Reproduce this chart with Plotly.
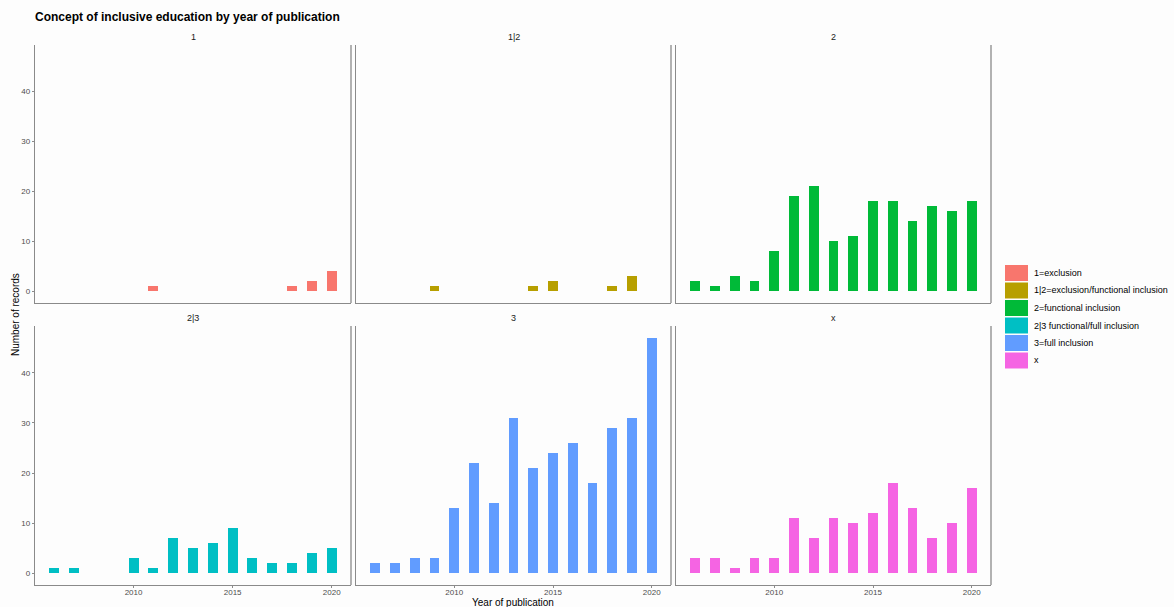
import plotly.graph_objects as go

# Facet keys, legend labels and fill colours (ggplot default hue palette)
facet_keys = ["1", "1|2", "2", "2|3", "3", "x"]
legend_labels = [
    "1=exclusion",
    "1|2=exclusion/functional inclusion",
    "2=functional inclusion",
    "2|3 functional/full inclusion",
    "3=full inclusion",
    "x",
]
colors = ["#F8766D", "#B79F00", "#00BA38", "#00BFC4", "#619CFF", "#F564E3"]

# Records per year of publication for each concept
years_1 = [2011, 2018, 2019, 2020]
counts_1 = [1, 1, 2, 4]

years_12 = [2009, 2014, 2015, 2018, 2019]
counts_12 = [1, 1, 2, 1, 3]

years_2 = [2006, 2007, 2008, 2009, 2010, 2011, 2012, 2013, 2014, 2015, 2016, 2017, 2018, 2019, 2020]
counts_2 = [2, 1, 3, 2, 8, 19, 21, 10, 11, 18, 18, 14, 17, 16, 18]

years_23 = [2006, 2007, 2010, 2011, 2012, 2013, 2014, 2015, 2016, 2017, 2018, 2019, 2020]
counts_23 = [1, 1, 3, 1, 7, 5, 6, 9, 3, 2, 2, 4, 5]

years_3 = [2006, 2007, 2008, 2009, 2010, 2011, 2012, 2013, 2014, 2015, 2016, 2017, 2018, 2019, 2020]
counts_3 = [2, 2, 3, 3, 13, 22, 14, 31, 21, 24, 26, 18, 29, 31, 47]

years_x = [2006, 2007, 2008, 2009, 2010, 2011, 2012, 2013, 2014, 2015, 2016, 2017, 2018, 2019, 2020]
counts_x = [3, 3, 1, 3, 3, 11, 7, 11, 10, 12, 18, 13, 7, 10, 17]

x_ticks = [2010, 2015, 2020]
y_ticks = [0, 10, 20, 30, 40]

series = [
    (years_1, counts_1),
    (years_12, counts_12),
    (years_2, counts_2),
    (years_23, counts_23),
    (years_3, counts_3),
    (years_x, counts_x),
]

W, H = 1174, 607
col_px = [(35, 351), (356, 671), (676, 991)]
row_px = [(45, 303), (326, 585)]

AXIS_GRAY = "#8a8a8a"
FONT = "Liberation Sans, Arial, sans-serif"
TICK_FONT = dict(family=FONT, size=8, color="#4d4d4d")

fig = go.Figure()
layout = {}
annotations = []
shapes = []

for i, (yrs, cnt) in enumerate(series):
    r, c = divmod(i, 3)
    n = "" if i == 0 else str(i + 1)
    fig.add_trace(go.Bar(
        x=yrs, y=cnt, width=0.5,
        marker=dict(color=colors[i], line=dict(width=0)),
        xaxis="x" + n, yaxis="y" + n,
        showlegend=False, name=legend_labels[i],
    ))
    x0, x1 = col_px[c]
    y0, y1 = row_px[r]
    layout["xaxis" + n] = dict(
        domain=[x0 / W, x1 / W], anchor="y" + n,
        range=[2005.025, 2020.975],
        tickvals=x_ticks, showticklabels=(r == 1),
        ticks="outside" if r == 1 else "", ticklen=2, tickcolor=AXIS_GRAY,
        ticklabelstandoff=-3,
        showline=True, mirror=False, linecolor=AXIS_GRAY, linewidth=1.3,
        showgrid=False, zeroline=False, tickfont=TICK_FONT,
    )
    layout["yaxis" + n] = dict(
        domain=[1 - y1 / H, 1 - y0 / H], anchor="x" + n,
        range=[-2.35, 49.35],
        tickvals=y_ticks, showticklabels=(c == 0),
        ticks="outside" if c == 0 else "", ticklen=2, tickcolor=AXIS_GRAY,
        showline=True, mirror=False, linecolor=AXIS_GRAY, linewidth=1.3,
        showgrid=False, zeroline=False, tickfont=TICK_FONT,
    )
    # right-hand edge of the panel
    shapes.append(dict(
        type="line", xref="x" + n + " domain", yref="y" + n + " domain",
        x0=1, x1=1, y0=0, y1=1,
        line=dict(color=AXIS_GRAY, width=1.3),
    ))
    # facet strip label
    annotations.append(dict(
        text=facet_keys[i], x=(x0 + x1) / 2 / W, y=1 - (y0 - 8) / H,
        xref="paper", yref="paper", showarrow=False,
        xanchor="center", yanchor="middle",
        font=dict(family=FONT, size=9, color="#1a1a1a"),
    ))

# Legend built from swatches and labels
leg_x0, leg_x1 = 1005, 1028
leg_top = 265
leg_step = 17.5
for i, (lab, col) in enumerate(zip(legend_labels, colors)):
    top = leg_top + i * leg_step
    shapes.append(dict(
        type="rect", xref="paper", yref="paper",
        x0=leg_x0 / W, x1=leg_x1 / W,
        y0=1 - (top + 16) / H, y1=1 - top / H,
        fillcolor=col, line=dict(width=0),
    ))
    annotations.append(dict(
        text=lab, x=1032 / W, y=1 - (top + 8) / H,
        xref="paper", yref="paper", showarrow=False,
        xanchor="left", yanchor="middle",
        font=dict(family=FONT, size=9, color="#000000"),
    ))

# Axis titles
annotations.append(dict(
    text="Year of publication", x=513 / W, y=1 - 602 / H,
    xref="paper", yref="paper", showarrow=False,
    xanchor="center", yanchor="middle",
    font=dict(family=FONT, size=10, color="#000000"),
))
annotations.append(dict(
    text="Number of records", x=15 / W, y=1 - 315 / H,
    xref="paper", yref="paper", showarrow=False, textangle=-90,
    xanchor="center", yanchor="middle",
    font=dict(family=FONT, size=10, color="#000000"),
))

fig.update_layout(
    width=W, height=H,
    margin=dict(l=0, r=0, t=0, b=0),
    paper_bgcolor="#fdfdfd", plot_bgcolor="#fdfdfd",
    bargap=0,
    title=dict(
        text="<b>Concept of inclusive education by year of publication</b>",
        x=35 / W, xanchor="left", y=1 - 17 / H, yanchor="middle",
        font=dict(family=FONT, size=12, color="#000000"),
    ),
    annotations=annotations,
    shapes=shapes,
    **layout,
)

fig.write_html("out.html")
